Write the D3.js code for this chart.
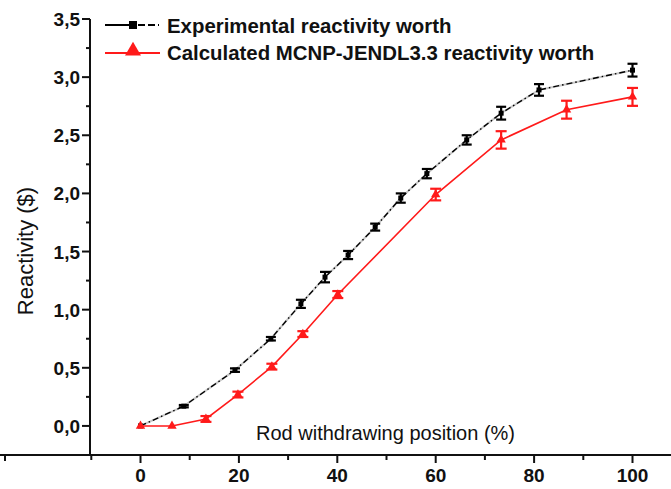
<!DOCTYPE html>
<html>
<head>
<meta charset="utf-8">
<script src="https://cdn.jsdelivr.net/npm/d3@7"></script>
<style>
  html, body { margin: 0; padding: 0; background: #fff; }
  svg { display: block; }
  text { font-family: Arial, "Liberation Sans", Helvetica, sans-serif; fill: #111; }
</style>
</head>
<body>
<svg id="chart" width="671" height="489"></svg>
<script>
// ---- data ----
const expX = [0, 8.8, 19.2, 26.5, 32.6, 37.5, 42.2, 47.7, 52.9, 58.2, 66.3, 73.3, 81.0, 100];
const expY = [0, 0.17, 0.48, 0.75, 1.05, 1.28, 1.47, 1.71, 1.96, 2.17, 2.46, 2.69, 2.89, 3.06];
const expErr = [0, 0.01, 0.015, 0.015, 0.035, 0.045, 0.035, 0.03, 0.04, 0.04, 0.04, 0.055, 0.05, 0.055];

const calcX = [0, 6.4, 13.3, 19.8, 26.7, 33.0, 40.1, 60.0, 73.3, 86.6, 100];
const calcY = [0, 0, 0.06, 0.27, 0.51, 0.79, 1.13, 1.99, 2.46, 2.72, 2.83];
const calcErr = [0, 0, 0.025, 0.025, 0.025, 0.025, 0.03, 0.05, 0.075, 0.077, 0.077];

const xTicks = [0, 20, 40, 60, 80, 100];
const xMinorTicks = [-10, 10, 30, 50, 70, 90];
const yTicks = [0, 0.5, 1.0, 1.5, 2.0, 2.5, 3.0, 3.5];
const yMinorTicks = [0.25, 0.75, 1.25, 1.75, 2.25, 2.75, 3.25];

const seriesNames = ["Experimental reactivity worth", "Calculated MCNP-JENDL3.3 reactivity worth"];
const xTitle = "Rod withdrawing position (%)";
const yTitle = "Reactivity ($)";

// ---- scales ----
const svg = d3.select("#chart");
const x = d3.scaleLinear().domain([0, 100]).range([140.5, 632.5]);
const y = d3.scaleLinear().domain([-0.25, 3.5]).range([455, 19]);
const axisX = 90, axisY = 455;
const fmt = v => d3.format(".1f")(v).replace(".", ",");

// ---- axes ----
const ax = svg.append("g").attr("stroke", "#111").attr("stroke-width", 2);
ax.append("line").attr("x1", 0).attr("x2", 671).attr("y1", axisY).attr("y2", axisY);
ax.append("line").attr("x1", axisX).attr("x2", axisX).attr("y1", y(3.5)).attr("y2", axisY);
// x ticks
ax.selectAll(".xt").data(xTicks).enter().append("line")
  .attr("x1", d => x(d)).attr("x2", d => x(d)).attr("y1", axisY).attr("y2", axisY + 8);
ax.selectAll(".xm").data(xMinorTicks).enter().append("line")
  .attr("x1", d => x(d)).attr("x2", d => x(d)).attr("y1", axisY).attr("y2", axisY + 5);
ax.append("line").attr("x1", 5).attr("x2", 5).attr("y1", axisY).attr("y2", axisY + 6);
// y ticks
ax.selectAll(".yt").data(yTicks).enter().append("line")
  .attr("x1", axisX - 8).attr("x2", axisX).attr("y1", d => y(d)).attr("y2", d => y(d));
ax.selectAll(".ym").data(yMinorTicks).enter().append("line")
  .attr("x1", axisX - 4).attr("x2", axisX).attr("y1", d => y(d)).attr("y2", d => y(d));

svg.selectAll(".xl").data(xTicks).enter().append("text")
  .attr("x", d => x(d)).attr("y", 482).attr("text-anchor", "middle")
  .style("font-size", "19px").style("font-weight", "bold").text(d => d);
svg.selectAll(".yl").data(yTicks).enter().append("text")
  .attr("x", 80).attr("y", d => y(d) + 7).attr("text-anchor", "end")
  .style("font-size", "19px").style("font-weight", "bold").text(d => fmt(d));

// titles
svg.append("text").attr("x", 256).attr("y", 440)
  .style("font-size", "20px").text(xTitle);
svg.append("text").attr("transform", "translate(33,251) rotate(-90)")
  .attr("text-anchor", "middle").style("font-size", "22px").text(yTitle);

// ---- series ----
const expData = expX.map((d, i) => ({x: d, y: expY[i], e: expErr[i]}));
const calcData = calcX.map((d, i) => ({x: d, y: calcY[i], e: calcErr[i]}));
const line = d3.line().x(d => x(d.x)).y(d => y(d.y));

svg.append("path").datum(expData).attr("d", line)
  .attr("fill", "none").attr("stroke", "#c8c8c8").attr("stroke-width", 2);
svg.append("path").datum(expData).attr("d", line)
  .attr("fill", "none").attr("stroke", "#000").attr("stroke-width", 1.4)
  .attr("stroke-dasharray", "6,3,1.5,3");
svg.append("path").datum(calcData).attr("d", line)
  .attr("fill", "none").attr("stroke", "#ff1a1a").attr("stroke-width", 1.6);

function errorBars(data, color, cap) {
  const g = svg.append("g").attr("stroke", color).attr("stroke-width", 2.2);
  data.filter(d => d.e > 0).forEach(d => {
    const cx = x(d.x), y1 = y(d.y - d.e), y2 = y(d.y + d.e);
    g.append("line").attr("x1", cx).attr("x2", cx).attr("y1", y1).attr("y2", y2);
    g.append("line").attr("x1", cx - cap).attr("x2", cx + cap).attr("y1", y1).attr("y2", y1);
    g.append("line").attr("x1", cx - cap).attr("x2", cx + cap).attr("y1", y2).attr("y2", y2);
  });
}
errorBars(expData, "#000", 5);
errorBars(calcData, "#ff1a1a", 5.5);

svg.append("g").selectAll("rect").data(expData).enter().append("rect")
  .attr("x", d => x(d.x) - 2.5).attr("y", d => y(d.y) - 2.5)
  .attr("width", 5).attr("height", 5).attr("fill", "#000");
const tri = d3.symbol().type(d3.symbolTriangle).size(38);
svg.append("g").selectAll("path").data(calcData).enter().append("path")
  .attr("d", tri).attr("transform", d => `translate(${x(d.x)},${y(d.y)})`)
  .attr("fill", "#ff1a1a");

// ---- legend ----
const lg = svg.append("g");
lg.append("line").attr("x1", 105).attr("x2", 129).attr("y1", 25).attr("y2", 25)
  .attr("stroke", "#000").attr("stroke-width", 2);
lg.append("line").attr("x1", 138).attr("x2", 159).attr("y1", 25).attr("y2", 25)
  .attr("stroke", "#000").attr("stroke-width", 2).attr("stroke-dasharray", "7,3");
lg.append("rect").attr("x", 129).attr("y", 21).attr("width", 8).attr("height", 8).attr("fill", "#000");
lg.append("line").attr("x1", 105).attr("x2", 160).attr("y1", 53).attr("y2", 53)
  .attr("stroke", "#ff1a1a").attr("stroke-width", 2);
lg.append("path").attr("d", d3.symbol().type(d3.symbolTriangle).size(110))
  .attr("transform", "translate(133,51)").attr("fill", "#ff1a1a");
lg.append("text").attr("x", 167).attr("y", 33).style("font-size", "20.4px")
  .style("font-weight", "bold").text(seriesNames[0]);
lg.append("text").attr("x", 167).attr("y", 60).style("font-size", "20.4px")
  .style("font-weight", "bold").text(seriesNames[1]);
</script>
</body>
</html>
